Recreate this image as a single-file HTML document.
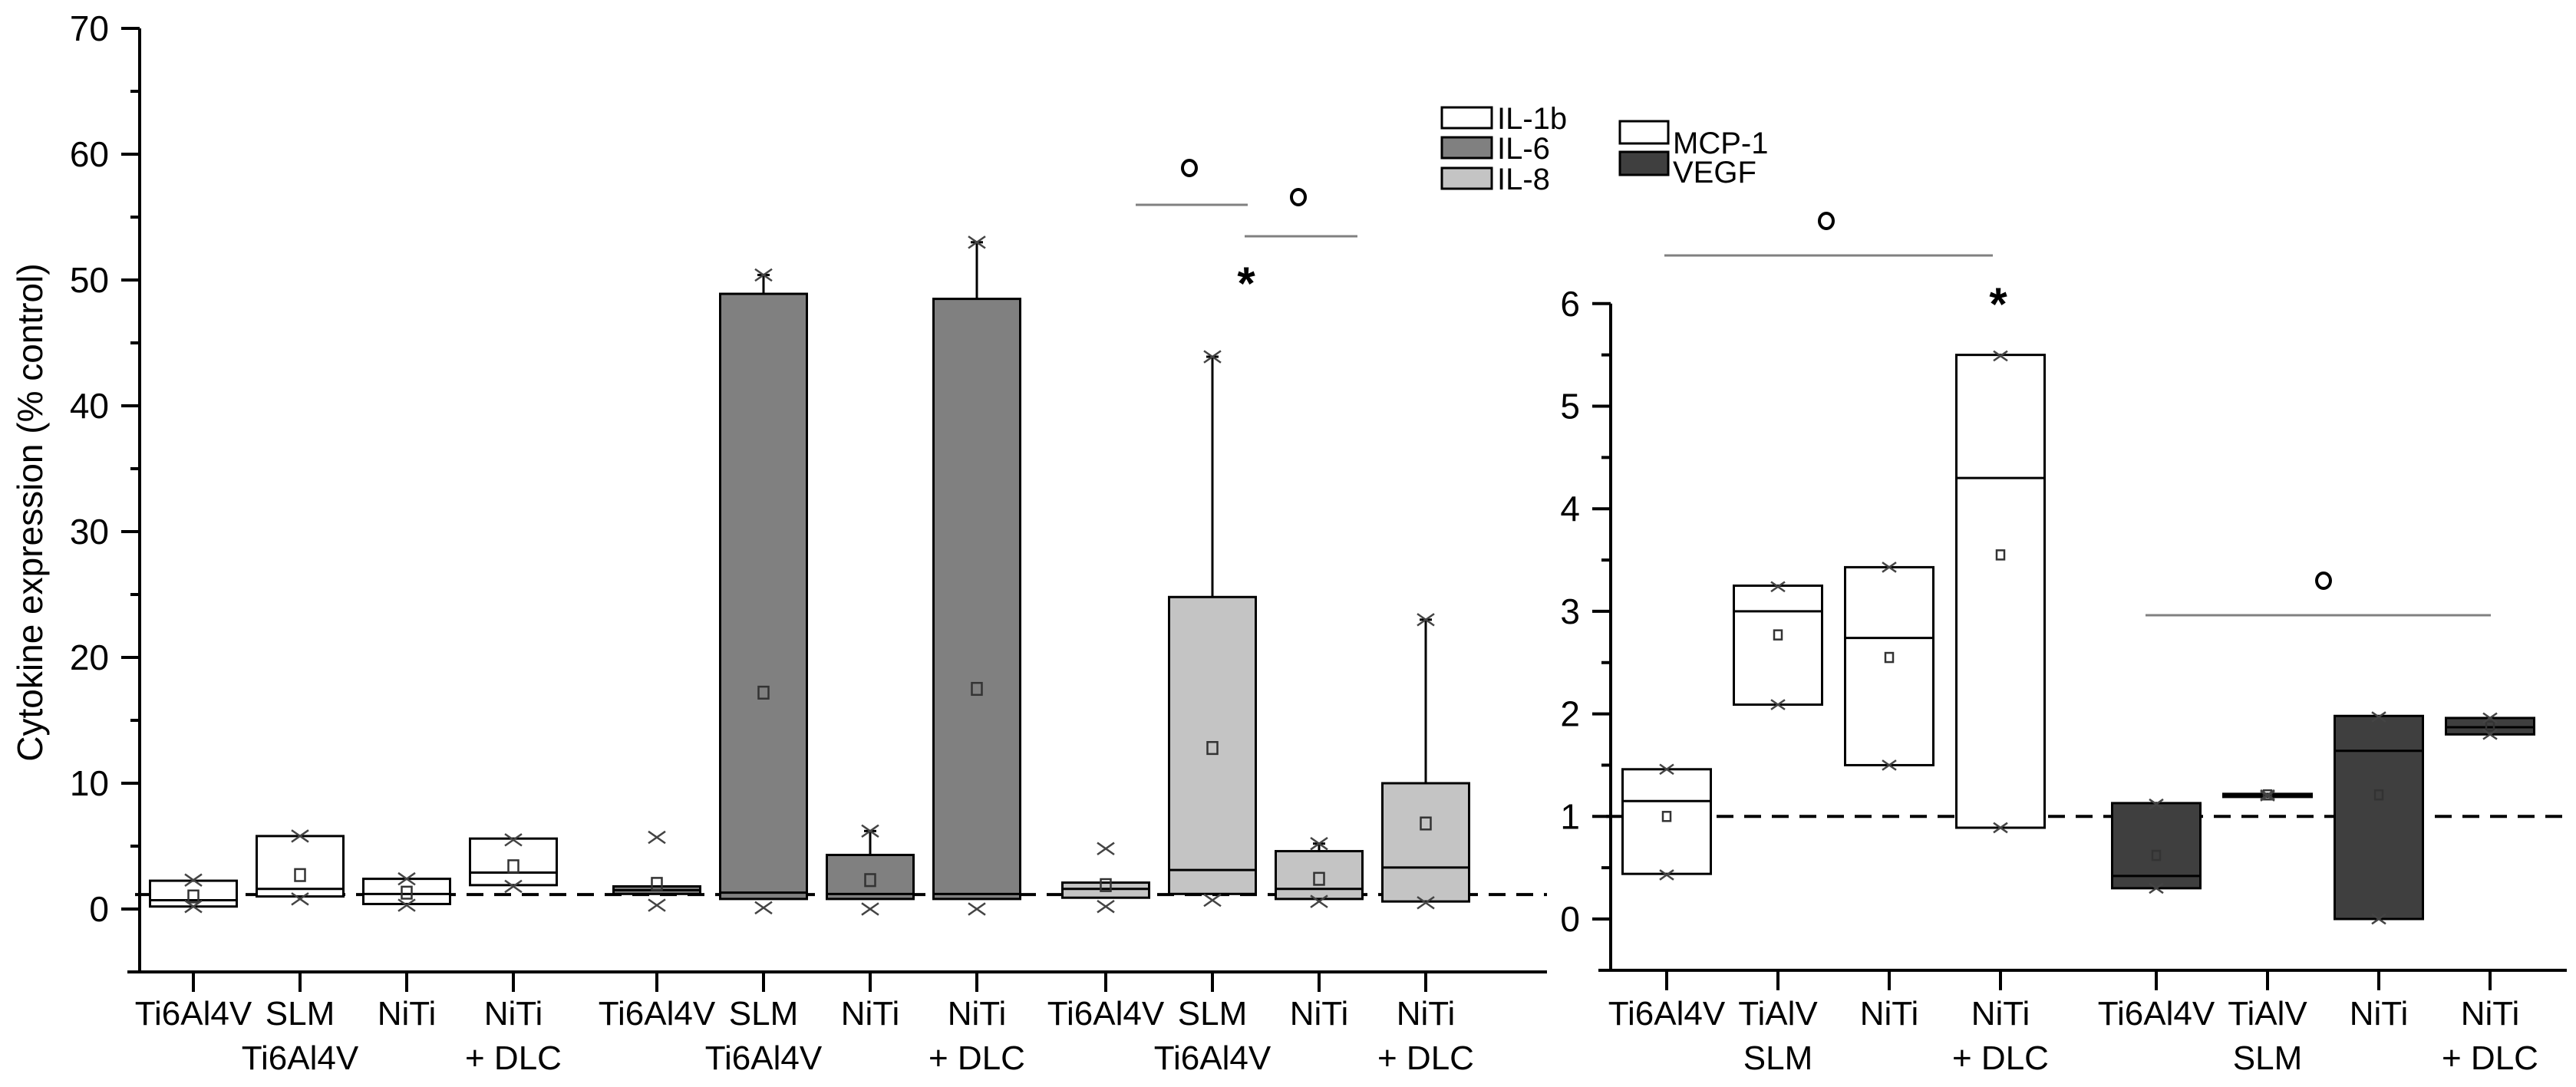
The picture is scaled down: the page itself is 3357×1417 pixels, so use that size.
<!DOCTYPE html>
<html><head><meta charset="utf-8"><style>
html,body{margin:0;padding:0;background:#fff;}
svg{display:block;font-family:"Liberation Sans",Arial,sans-serif;}
</style></head><body>
<svg id="chart" width="3357" height="1417" viewBox="0 0 3357 1417" xmlns="http://www.w3.org/2000/svg">
<g id="left"></g>
<g id="right"></g>
<text x="43" y="668" font-size="46" text-anchor="middle" transform="rotate(-90 43 668)" dominant-baseline="middle">Cytokine expression (% control)</text>
<g>
<rect x="1879" y="140" width="65" height="27" fill="#fff" stroke="#000" stroke-width="3"/>
<text x="1951" y="168" font-size="40">IL-1b</text>
<rect x="1879" y="179" width="65" height="27" fill="#808080" stroke="#000" stroke-width="3"/>
<text x="1951" y="207" font-size="40">IL-6</text>
<rect x="1879" y="219" width="65" height="27" fill="#c4c4c4" stroke="#000" stroke-width="3"/>
<text x="1951" y="247" font-size="40">IL-8</text>
</g>
<g>
<rect x="2111" y="158" width="63" height="29" fill="#fff" stroke="#000" stroke-width="3"/>
<text x="2180" y="200" font-size="40">MCP-1</text>
<rect x="2111" y="198" width="63" height="30" fill="#3f3f3f" stroke="#000" stroke-width="3"/>
<text x="2180" y="238" font-size="40">VEGF</text>
</g>
</svg>
<script>
// ---- Left panel data (IL-1b, IL-6, IL-8) ----
const leftCats = [["Ti6Al4V",""],["SLM","Ti6Al4V"],["NiTi",""],["NiTi","+ DLC"],["Ti6Al4V",""],["SLM","Ti6Al4V"],["NiTi",""],["NiTi","+ DLC"],["Ti6Al4V",""],["SLM","Ti6Al4V"],["NiTi",""],["NiTi","+ DLC"]];
const leftLo   = [0.2,1.0,0.4,1.9, 1.2,0.8,0.8,0.8, 0.9,1.2,0.8,0.6];
const leftHi   = [2.25,5.8,2.4,5.6, 1.8,48.9,4.3,48.5, 2.1,24.8,4.6,10.0];
const leftMed  = [0.7,1.6,1.2,2.9, 1.5,1.3,1.2,1.2, 1.6,3.1,1.6,3.3];
const leftMean = [1.0,2.7,1.3,3.4, 2.0,17.2,2.3,17.5, 1.9,12.8,2.4,6.8];
const leftMax  = [2.3,5.8,2.4,5.5, 5.7,50.4,6.2,53.0, 4.8,43.9,5.2,23.0];
const leftMin  = [0.2,0.8,0.3,1.8, 0.3,0.1,0.0,0.0, 0.2,0.7,0.6,0.5];
const leftWhisker = [0,0,0,0, 0,1,1,1, 0,1,1,1];
const leftGroup = [0,0,0,0, 1,1,1,1, 2,2,2,2];
const leftTicks = [0,10,20,30,40,50,60,70];
const leftRef = 1.15;
// ---- Right panel data (MCP-1, VEGF) ----
const rightCats = [["Ti6Al4V",""],["TiAlV","SLM"],["NiTi",""],["NiTi","+ DLC"],["Ti6Al4V",""],["TiAlV","SLM"],["NiTi",""],["NiTi","+ DLC"]];
const rightLo   = [0.44,2.09,1.5,0.89, 0.3,1.19,0,1.8];
const rightHi   = [1.46,3.25,3.43,5.5, 1.13,1.22,1.98,1.96];
const rightMed  = [1.15,3.0,2.74,4.3, 0.42,1.21,1.64,1.87];
const rightMean = [1.0,2.77,2.55,3.55, 0.62,1.21,1.21,1.88];
const rightMax  = [1.46,3.24,3.43,5.49, 1.12,1.21,1.97,1.96];
const rightMin  = [0.43,2.09,1.5,0.89, 0.3,1.2,0,1.8];
const rightGroup = [0,0,0,0, 1,1,1,1];
const rightTicks = [0,1,2,3,4,5,6];
const rightRef = 1.0;

const NS="http://www.w3.org/2000/svg";
function mk(parent, tag, attrs){const e=document.createElementNS(NS,tag);for(const k in attrs)e.setAttribute(k,attrs[k]);parent.appendChild(e);return e;}

const lY = v => 1185 - v*16.4;
const lX = i => 252 + i*139 + [0,48,77][leftGroup[i]];
const rY = v => 1198 - v*133.7;
const rX = i => 2172 + i*145 + [0,58][rightGroup[i]];

function drawPanel(g, o){
  let a=mk(g,'line',{x1:o.ax,y1:o.y(o.top),x2:o.ax,y2:o.y(o.bot),stroke:'#000','stroke-width':4});
  
  a=mk(g,'line',{x1:o.ax-16,y1:o.y(o.bot),x2:o.axEnd,y2:o.y(o.bot),stroke:'#000','stroke-width':4});
  
  o.ticks.forEach(t=>{
    const tl=mk(g,'line',{x1:o.ax-24,y1:o.y(t),x2:o.ax,y2:o.y(t),stroke:'#000','stroke-width':4});
    
    const tx=mk(g,'text',{x:o.ax-40,y:o.y(t)+16,'font-size':46,'text-anchor':'end'});
    tx.textContent=t;
    
    const m=t+o.minor;
    if(m<o.top){const ml=mk(g,'line',{x1:o.ax-12,y1:o.y(m),x2:o.ax,y2:o.y(m),stroke:'#000','stroke-width':4});
      }
  });
  const rl=mk(g,'line',{x1:o.ax-6,y1:o.y(o.ref),x2:o.axEnd,y2:o.y(o.ref),stroke:'#000','stroke-width':4,'stroke-dasharray':'22 14'});
  
  o.cats.forEach((c,i)=>{
    const x=o.x(i), w=o.w;
    const grp=mk(g,'g',{});
    
    
    if(o.whisker && o.whisker[i] && o.max[i]>o.hi[i]){
      const wl=mk(grp,'line',{x1:x,y1:o.y(o.hi[i]),x2:x,y2:o.y(o.max[i]),stroke:'#000','stroke-width':3});
      
      const cp=mk(grp,'line',{x1:x-8,y1:o.y(o.max[i]),x2:x+8,y2:o.y(o.max[i]),stroke:'#000','stroke-width':3});
      
    }
    const top=o.y(o.hi[i]), bot=o.y(o.lo[i]);
    const r=mk(grp,'rect',{x:x-w/2,y:top,width:w,height:Math.max(bot-top,2),fill:o.fill[o.group[i]],stroke:'#000','stroke-width':3});
    
    const md=mk(grp,'line',{x1:x-w/2,y1:o.y(o.med[i]),x2:x+w/2,y2:o.y(o.med[i]),stroke:'#000','stroke-width':3});
    
    const ms=mk(grp,'rect',{x:x-o.ms/2,y:o.y(o.mean[i])-o.ms*0.6,width:o.ms,height:o.ms*1.2,fill:'none',stroke:'#333','stroke-width':2.5});
    
    [o.max[i],o.min[i]].forEach((v,k)=>{
      const s=o.xs, yy=o.y(v);
      const p=mk(grp,'path',{d:`M${x-s} ${yy-s*0.7}L${x+s} ${yy+s*0.7}M${x-s} ${yy+s*0.7}L${x+s} ${yy-s*0.7}`,stroke:'#444','stroke-width':2.5,fill:'none'});
      
    });
    const ct=mk(g,'line',{x1:x,y1:o.y(o.bot),x2:x,y2:o.y(o.bot)+26,stroke:'#000','stroke-width':4});
    
    c.forEach((ln,k)=>{ if(!ln) return;
      const t=mk(g,'text',{x:x,y:1336+k*58,'font-size':44,'text-anchor':'middle'});
      t.textContent=ln;
      
    });
  });
}
drawPanel(document.getElementById('left'),{ax:182,axEnd:2016,y:lY,x:lX,top:70,bot:-5,minor:5,ticks:leftTicks,ref:leftRef,
  cats:leftCats,lo:leftLo,hi:leftHi,med:leftMed,mean:leftMean,max:leftMax,min:leftMin,whisker:leftWhisker,group:leftGroup,
  fill:['#ffffff','#808080','#c4c4c4'],w:113,ms:13,xs:11});
drawPanel(document.getElementById('right'),{ax:2099,axEnd:3345,y:rY,x:rX,top:6,bot:-0.5,minor:0.5,ticks:rightTicks,ref:rightRef,
  cats:rightCats,lo:rightLo,hi:rightHi,med:rightMed,mean:rightMean,max:rightMax,min:rightMin,whisker:null,group:rightGroup,
  fill:['#ffffff','#3f3f3f'],w:115,ms:10,xs:9});

const svg=document.getElementById('chart');
const sig=mk(svg,'g',{});


[[1480,1626,267],[1622,1769,308],[2169,2597,333],[2796,3246,802]].forEach(l=>{
  const e=mk(sig,'line',{x1:l[0],y1:l[2],x2:l[1],y2:l[2],stroke:'#808080','stroke-width':3});
  
});
[[1550,219],[1692,257],[2380,288],[3028,757]].forEach(c=>{
  const e=mk(sig,'ellipse',{cx:c[0],cy:c[1],rx:9,ry:10,fill:'none',stroke:'#000','stroke-width':4});
  
});
[[1624,360],[2604,387]].forEach(s=>{
  const e=mk(sig,'text',{x:s[0],y:s[1]+30,'font-size':60,'font-weight':'bold','text-anchor':'middle'});
  e.textContent='*';
  
});
</script>
</body></html>
